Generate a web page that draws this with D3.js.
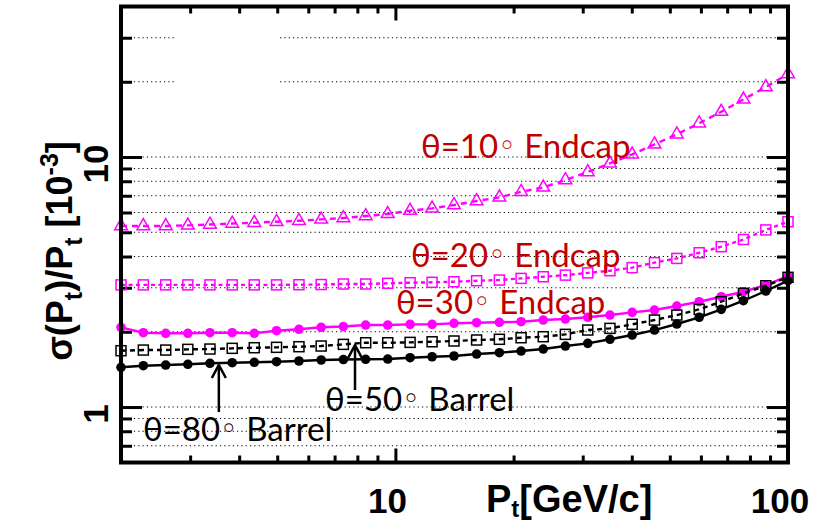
<!DOCTYPE html>
<html><head><meta charset="utf-8">
<script src="https://cdn.jsdelivr.net/npm/d3@7"></script>
<style>body{margin:0;background:#fff}</style>
</head><body><svg id="c" width="835" height="524"></svg>
<script>
// ---- data ----
const ptValues = [2.00, 2.28, 2.60, 2.96, 3.37, 3.84, 4.37, 4.98, 5.68, 6.47, 7.37, 8.40, 9.56, 10.9, 12.4, 14.1, 16.1, 18.4, 20.9, 23.8, 27.1, 30.9, 35.2, 40.1, 45.7, 52.1, 59.4, 67.6, 77.0, 87.8, 100];
const theta10 = [5.30,5.30,5.30,5.33,5.37,5.42,5.46,5.51,5.56,5.63,5.70,5.81,5.92,6.10,6.23,6.43,6.67,6.90,7.26,7.56,8.09,8.71,9.43,10.25,11.24,12.33,13.64,15.18,17.0,19.05,21.48];
const theta20 = [3.08,3.08,3.08,3.08,3.08,3.08,3.08,3.08,3.085,3.09,3.105,3.105,3.125,3.143,3.154,3.171,3.20,3.22,3.27,3.32,3.37,3.44,3.51,3.61,3.78,3.93,4.14,4.38,4.68,5.11,5.51];
const theta30 = [2.084,1.983,1.972,1.972,1.983,1.983,1.972,2.020,2.046,2.084,2.099,2.128,2.128,2.142,2.142,2.162,2.174,2.182,2.194,2.228,2.249,2.285,2.333,2.392,2.443,2.535,2.638,2.762,2.892,3.076,3.342];
const theta50 = [1.680,1.690,1.690,1.701,1.706,1.717,1.727,1.733,1.743,1.754,1.781,1.808,1.808,1.814,1.824,1.837,1.854,1.866,1.893,1.911,1.953,2.032,2.064,2.142,2.228,2.333,2.459,2.638,2.850,3.056,3.302];
const theta80 = [1.442,1.463,1.472,1.482,1.496,1.504,1.510,1.518,1.528,1.542,1.549,1.552,1.556,1.575,1.589,1.600,1.629,1.649,1.675,1.706,1.754,1.798,1.866,1.941,2.032,2.148,2.285,2.459,2.662,2.911,3.201];

const xMajorTicks = [10, 100];
const xMinorTicks = [3,4,5,6,7,8,9,20,30,40,50,60,70,80,90];
const yMajorTicks = [1, 10];
const yMinorTicks = [0.7,0.8,0.9,2,3,4,5,6,7,8,9,20,30];
const gridValues = [0.7,0.8,0.9,1,2,3,4,5,6,7,8,9,10,20,30];
const xTickLabels = ["10", "100"];
const yTickLabels = ["1", "10"];

const labels = [
  {pre:"θ=10", post:" Endcap", x:11.62, y:9.89, color:"#c00000"},
  {pre:"θ=20", post:" Endcap", x:10.96, y:3.63, color:"#c00000"},
  {pre:"θ=30", post:" Endcap", x:10.03, y:2.355, color:"#c00000"},
  {pre:"θ=50", post:" Barrel", x:6.62, y:0.964, color:"#000"},
  {pre:"θ=80", post:" Barrel", x:2.275, y:0.731, color:"#000"}
];
const arrows = [
  {x:3.55, y0:0.955, y1:1.473},
  {x:7.89, y0:1.170, y1:1.770}
];

// ---- chart ----
const svg = d3.select('#c');
const x = d3.scaleLog().domain([2,100]).range([121,788]);
const y = d3.scaleLog().domain([0.6,40]).range([462.5,6.5]);
const X0 = x.range()[0], X1 = x.range()[1], Y0 = y.range()[0], Y1 = y.range()[1];

// gridlines
svg.append('g').selectAll('line').data(gridValues).join('line')
  .attr('x1',X0).attr('x2',X1).attr('y1',d=>y(d)).attr('y2',d=>y(d))
  .attr('stroke','#000').attr('stroke-width',1.1).attr('stroke-dasharray','1.2,3.1');
// empty legend box
svg.append('rect').attr('x',175).attr('y',22).attr('width',103).attr('height',76).attr('fill','#fff');

// ticks via axes
function styleAxis(g){ g.select('.domain').remove(); g.selectAll('line').attr('stroke','#000').attr('stroke-width',3); g.selectAll('text').remove(); }
svg.append('g').attr('transform',`translate(0,${Y0})`).call(d3.axisBottom(x).tickValues(xMinorTicks).tickSize(-7)).call(styleAxis);
svg.append('g').attr('transform',`translate(0,${Y0})`).call(d3.axisBottom(x).tickValues(xMajorTicks).tickSize(-14)).call(styleAxis);
svg.append('g').attr('transform',`translate(0,${Y1})`).call(d3.axisTop(x).tickValues(xMinorTicks).tickSize(-7)).call(styleAxis);
svg.append('g').attr('transform',`translate(0,${Y1})`).call(d3.axisTop(x).tickValues(xMajorTicks).tickSize(-14)).call(styleAxis);
svg.append('g').attr('transform',`translate(${X0},0)`).call(d3.axisLeft(y).tickValues(yMinorTicks).tickSize(-11)).call(styleAxis);
svg.append('g').attr('transform',`translate(${X0},0)`).call(d3.axisLeft(y).tickValues(yMajorTicks).tickSize(-21)).call(styleAxis);
svg.append('g').attr('transform',`translate(${X1},0)`).call(d3.axisRight(y).tickValues(yMinorTicks).tickSize(-11)).call(styleAxis);
svg.append('g').attr('transform',`translate(${X1},0)`).call(d3.axisRight(y).tickValues(yMajorTicks).tickSize(-21)).call(styleAxis);

// series
const series = [
  {vals:theta10, color:'#ff00ff', dash:'6,5', marker:'tri'},
  {vals:theta20, color:'#ff00ff', dash:'4,3.5', marker:'sq'},
  {vals:theta30, color:'#ff00ff', dash:null, marker:'dot'},
  {vals:theta50, color:'#000', dash:'5,4', marker:'sq'},
  {vals:theta80, color:'#000', dash:null, marker:'dot'}
];
const plot = svg.append('g');
series.forEach(s=>{
  const pts = ptValues.map((p,i)=>[p, s.vals[i]]);
  const line = d3.line().x(d=>x(d[0])).y(d=>y(d[1]));
  plot.append('path').attr('d', line(pts)).attr('fill','none').attr('stroke', s.color)
    .attr('stroke-width', 2.4).attr('stroke-dasharray', s.dash);
  const g = plot.append('g');
  if(s.marker==='dot'){
    g.selectAll('circle').data(pts).join('circle').attr('cx',d=>x(d[0])).attr('cy',d=>y(d[1]))
      .attr('r',4.8).attr('fill',s.color);
  } else if(s.marker==='sq'){
    g.selectAll('rect').data(pts).join('rect').attr('x',d=>x(d[0])-5).attr('y',d=>y(d[1])-5)
      .attr('width',10).attr('height',10).attr('fill','none').attr('stroke',s.color).attr('stroke-width',1.5);
  } else {
    const sym = d3.symbol().type(d3.symbolTriangle).size(70);
    g.selectAll('path').data(pts).join('path').attr('transform',d=>`translate(${x(d[0])},${y(d[1])})`)
      .attr('d',sym).attr('fill','none').attr('stroke',s.color).attr('stroke-width',1.5);
  }
});

// frame
svg.append('rect').attr('x',X0).attr('y',Y1).attr('width',X1-X0).attr('height',Y0-Y1)
  .attr('fill','none').attr('stroke','#000').attr('stroke-width',4);

// tick labels
svg.append('g').selectAll('text').data(xMajorTicks).join('text')
  .attr('x',d=>x(d)-8).attr('y',513).attr('text-anchor','middle')
  .attr('font-family','Liberation Sans, Arial, sans-serif').attr('font-weight','bold').attr('font-size',35)
  .text((d,i)=>xTickLabels[i]);
svg.append('g').selectAll('text').data(yMajorTicks).join('text')
  .attr('transform',d=>`translate(108,${y(d)+7}) rotate(-90)`).attr('text-anchor','middle')
  .attr('font-family','Liberation Sans, Arial, sans-serif').attr('font-weight','bold').attr('font-size',35)
  .text((d,i)=>yTickLabels[i]);

// axis titles
const xt = svg.append('text').attr('x',486).attr('y',512)
  .attr('font-family','Liberation Sans, Arial, sans-serif').attr('font-weight','bold').attr('font-size',38);
xt.append('tspan').text('P');
xt.append('tspan').attr('font-size',24).attr('dy',5).text('t');
xt.append('tspan').attr('dy',-5).text('[GeV/c]');

const yt = svg.append('text').attr('transform','translate(72,251) rotate(-90)').attr('text-anchor','middle')
  .attr('font-family','Liberation Sans, Arial, sans-serif').attr('font-weight','bold').attr('font-size',36);
yt.append('tspan').text('σ(P');
yt.append('tspan').attr('font-size',25).attr('dy',10).text('t');
yt.append('tspan').attr('dy',-10).text(')/P');
yt.append('tspan').attr('font-size',25).attr('dy',10).text('t');
yt.append('tspan').attr('dy',-10).text(' [10');
yt.append('tspan').attr('font-size',25).attr('dy',-14).text('-3');
yt.append('tspan').attr('dy',14).text(']');

// annotations
const at = svg.append('g').selectAll('text').data(labels).join('text')
  .attr('x',d=>x(d.x)).attr('y',d=>y(d.y)).attr('fill',d=>d.color)
  .attr('font-family','Lato, sans-serif').attr('font-size',33);
at.append('tspan').text(d=>d.pre);
at.append('tspan').attr('font-family','DejaVu Sans').attr('font-size',30).attr('dy',-2).text('◦');
at.append('tspan').attr('dy',2).text(d=>d.post);

// arrows
const ag = svg.append('g').attr('stroke','#000').attr('stroke-width',2.5).attr('fill','none');
arrows.forEach(a=>{
  const ax = x(a.x), ty = y(a.y1), by = y(a.y0);
  ag.append('line').attr('x1',ax).attr('x2',ax).attr('y1',by).attr('y2',ty);
  ag.append('path').attr('d',`M${ax-7},${ty+13}L${ax},${ty}L${ax+7},${ty+13}`);
});
</script></body></html>
